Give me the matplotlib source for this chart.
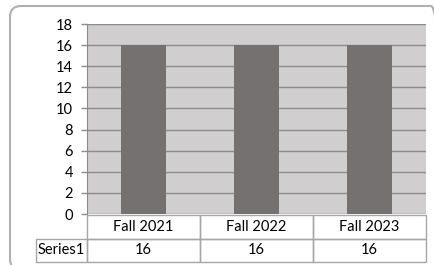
import matplotlib as mpl
import matplotlib.pyplot as plt
import matplotlib.transforms as mtransforms
from matplotlib.patches import FancyBboxPatch, Rectangle

mpl.rcParams.update({
    "font.family": ["Lato", "DejaVu Sans"],
    "font.size": 10.5,
})

categories = ["Fall 2021", "Fall 2022", "Fall 2023"]
series_name = "Series1"
values = [16, 16, 16]
yticks = list(range(0, 19, 2))

W, H = 434, 265
fig = plt.figure(figsize=(W / 100, H / 100), dpi=100)

# rounded chart-area border in pixel coords (runs off right/bottom edge)
border = FancyBboxPatch((10, -5), 432, H - 6 + 5,
                        boxstyle="round,pad=0,rounding_size=11",
                        transform=mtransforms.IdentityTransform(), fill=False,
                        edgecolor="#b0b0b0", linewidth=1.5)
fig.patches.append(border)

ax = fig.add_axes([87 / W, 1 - 214 / H, (426 - 87) / W, (214 - 24) / H])
ax.set_facecolor("#d0cece")

x = range(len(categories))
ax.bar(x, values, width=0.4, color="#767171", zorder=3)
ax.set_xlim(-0.5, len(categories) - 0.5)
ax.set_ylim(0, 18)
ax.set_yticks(yticks)
ax.yaxis.grid(True, color="#8c8c8c", linewidth=1)
ax.set_axisbelow(True)
ax.set_xticks([])

for s in ["top", "right", "bottom"]:
    ax.spines[s].set_visible(False)
ax.spines["left"].set_color("#8c8c8c")
ax.tick_params(axis="y", length=4, width=1, color="#8c8c8c", pad=6, labelsize=10.5)

# data table under the plot: x in data units, y in axes units
tr = ax.get_xaxis_transform()
row_h = 23.5 / 190
top = -1 / 190
line_c = "#a6a6a6"
for j, cat in enumerate(categories):
    for k, txt in enumerate([cat, str(values[j])]):
        y0 = top - (k + 1) * row_h
        ax.add_patch(Rectangle((j - 0.5, y0), 1, row_h, transform=tr, fill=False,
                               edgecolor=line_c, linewidth=1, clip_on=False))
        ax.text(j, y0 + row_h / 2, txt, transform=tr, ha="center", va="center",
                fontsize=10.5, color="black")

# row label cell, in axes units
lab_w = 51 / 339
y0 = top - 2 * row_h
ax.add_patch(Rectangle((-lab_w, y0), lab_w, row_h, transform=ax.transAxes, fill=False,
                       edgecolor=line_c, linewidth=1, clip_on=False))
ax.text(-lab_w + 2 / 339, y0 + row_h / 2, series_name, transform=ax.transAxes,
        ha="left", va="center", fontsize=10.5, color="black")

fig.savefig("out.png", dpi=100)
